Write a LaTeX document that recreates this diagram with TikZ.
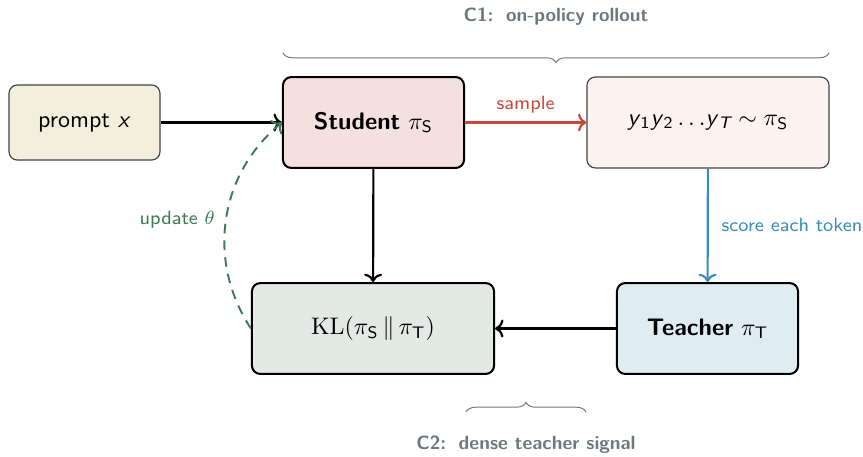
\documentclass[tikz,border=0pt]{standalone}
\usepackage{amsmath}
\usetikzlibrary{arrows.meta,decorations.pathreplacing}
\definecolor{promptfill}{HTML}{F2F0DD}
\definecolor{studentfill}{HTML}{F5E0E0}
\definecolor{samplefill}{HTML}{FCF3F1}
\definecolor{klfill}{HTML}{E3E9E5}
\definecolor{teacherfill}{HTML}{DFECF2}
\definecolor{samplered}{HTML}{C9473B}
\definecolor{scoreblue}{HTML}{3A8DB8}
\definecolor{updategreen}{HTML}{3F7A55}
\definecolor{bracegray}{HTML}{6E7680}
\definecolor{edgegray}{HTML}{444444}
\newcommand{\sfy}{\textsf{\itshape y}}
\begin{document}
\begin{tikzpicture}[x=0.418pt,y=-0.418pt,font=\sffamily,
  box/.style={draw=black,line width=0.85pt,rounded corners=3.5pt,align=center,inner sep=0pt},
  lightbox/.style={draw=edgegray,line width=0.5pt,rounded corners=3.5pt,align=center,inner sep=0pt},
  tip/.style={-{Computer Modern Rightarrow[length=3.5pt,width=7.5pt]}},
  flow/.style={tip,line width=0.9pt},
  lbl/.style={font=\sffamily\footnotesize},
  bracelbl/.style={font=\sffamily\bfseries\footnotesize,text=bracegray},
  bracedraw/.style={draw=bracegray,line width=0.4pt,decorate}]
\useasboundingbox (0,0) rectangle (863,456);

% boxes
\node[lightbox,fill=promptfill,minimum width=63.1pt,minimum height=31.4pt] (prompt) at (84.5,122.5) {prompt \textit{x}};
\node[box,fill=studentfill,minimum width=75.7pt,minimum height=38pt] (student) at (373.5,122.5) {\textbf{Student} $\pi_{\textsf{S}}$};
\node[lightbox,fill=samplefill,minimum width=101.2pt,minimum height=38pt] (seq) at (708,122.5) {\sfy$_{\textsf{1}}$\sfy$_{\textsf{2}}\ldots$\sfy$_{\textsf{\itshape T}}\sim\pi_{\textsf{S}}$};
\node[box,fill=klfill,minimum width=101.2pt,minimum height=38pt] (kl) at (373,328.5) {$\mathrm{KL}(\pi_{\textsf{S}}\,\|\,\pi_{\textsf{T}})$};
\node[box,fill=teacherfill,minimum width=75.7pt,minimum height=38pt] (teacher) at (707.5,328.5) {\textbf{Teacher} $\pi_{\textsf{T}}$};

% connectors
\draw[flow] (prompt) -- (student);
\draw[flow,samplered] (student) -- node[lbl,above=0pt] {sample} (seq);
\draw[flow,scoreblue] (seq) -- node[lbl,right=2pt,pos=0.5] {score each token} (teacher);
\draw[flow] (student) -- (kl);
\draw[flow] (teacher) -- (kl);
\draw[tip,updategreen,line width=0.8pt,dash pattern=on 4pt off 3pt]
  (kl.west) to[bend left=42] node[lbl,left=1pt,pos=0.5] {update $\theta$} (student.west);

% braces
\coordinate (c1a) at (283,53);
\coordinate (c1b) at (829,53);
\draw[bracedraw,decoration={brace,mirror,amplitude=4pt}] (c1a) -- (c1b);
\node[bracelbl] (c1) at (556,17) {C1:\, on-policy rollout};
\coordinate (c2a) at (466,412);
\coordinate (c2b) at (586,412);
\draw[bracedraw,decoration={brace,amplitude=4pt}] (c2a) -- (c2b);
\node[bracelbl] (c2) at (526,445) {C2:\, dense teacher signal};
\end{tikzpicture}
\end{document}
